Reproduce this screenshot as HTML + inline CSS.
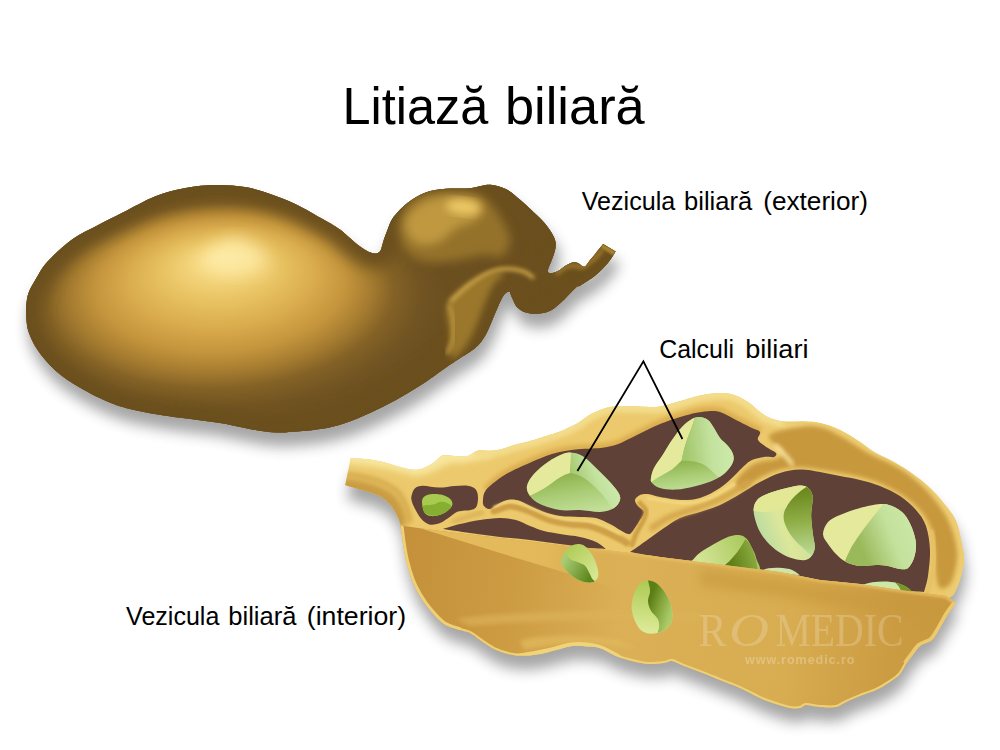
<!DOCTYPE html>
<html lang="ro"><head><meta charset="utf-8"><title>Litiază biliară</title>
<style>html,body{margin:0;padding:0;background:#fff;width:1000px;height:750px;overflow:hidden}svg{display:block}</style>
</head><body>
<svg width="1000" height="750" viewBox="0 0 1000 750">
<defs>
<filter id="b2" x="-20%" y="-20%" width="140%" height="140%"><feGaussianBlur stdDeviation="2"/></filter>
<filter id="b5" x="-20%" y="-20%" width="140%" height="140%"><feGaussianBlur stdDeviation="5"/></filter>
<filter id="b3" x="-20%" y="-20%" width="140%" height="140%"><feGaussianBlur stdDeviation="3"/></filter>
<filter id="b1" x="-20%" y="-20%" width="140%" height="140%"><feGaussianBlur stdDeviation="1"/></filter>
<filter id="b4" x="-20%" y="-20%" width="140%" height="140%"><feGaussianBlur stdDeviation="4"/></filter>
<filter id="b6" x="-20%" y="-20%" width="140%" height="140%"><feGaussianBlur stdDeviation="6"/></filter>
<filter id="b7" x="-20%" y="-20%" width="140%" height="140%"><feGaussianBlur stdDeviation="7"/></filter>
<filter id="b8" x="-20%" y="-20%" width="140%" height="140%"><feGaussianBlur stdDeviation="8"/></filter>
<filter id="b9" x="-30%" y="-30%" width="160%" height="160%"><feGaussianBlur stdDeviation="9"/></filter>
<filter id="b11" x="-20%" y="-20%" width="140%" height="140%"><feGaussianBlur stdDeviation="11"/></filter>
<filter id="b14" x="-40%" y="-40%" width="180%" height="180%"><feGaussianBlur stdDeviation="14"/></filter>
<filter id="b22" x="-50%" y="-50%" width="200%" height="200%"><feGaussianBlur stdDeviation="22"/></filter>
<clipPath id="cExt"><path d="M603.1,244.0 L615.6,251.5 C614.4,253.4 611.4,258.8 608.1,262.8 C604.8,266.8 600.2,271.5 595.6,275.3 C591.0,279.1 583.9,283.3 580.5,285.4 C577.1,287.5 578.8,285.0 575.5,287.9 C572.2,290.8 565.1,298.9 560.5,302.9 C555.9,306.9 552.9,309.9 547.9,311.7 C542.9,313.5 535.4,314.1 530.4,313.5 C525.4,312.9 521.0,310.7 517.9,307.9 C514.8,305.1 513.1,299.4 511.6,296.7 C510.1,294.0 510.6,291.6 509.1,291.6 C507.6,291.6 505.1,293.1 502.8,296.7 C500.5,300.3 498.2,306.5 495.3,313.0 C492.4,319.5 488.7,329.7 485.3,335.5 C481.9,341.3 479.8,344.0 475.2,348.0 C470.6,352.0 462.9,356.2 458.0,359.5 C453.1,362.8 451.9,363.4 445.7,367.7 C439.5,372.0 429.0,379.9 420.6,385.3 C412.2,390.7 403.9,395.7 395.5,400.3 C387.1,404.9 378.9,409.0 370.5,412.8 C362.1,416.6 353.8,420.2 345.4,422.9 C337.0,425.6 330.3,427.5 320.3,429.1 C310.3,430.7 294.4,432.0 285.2,432.4 C276.0,432.8 271.8,432.4 265.1,431.6 C258.4,430.9 252.5,429.3 245.0,427.9 C237.5,426.4 227.8,424.2 220.0,422.9 C212.2,421.6 207.1,421.1 198.0,419.9 C188.9,418.7 175.9,417.4 165.5,415.8 C155.1,414.2 144.6,412.5 135.4,410.3 C126.2,408.1 119.5,406.6 110.3,402.8 C101.1,399.1 89.4,393.2 80.2,387.8 C71.0,382.4 62.2,376.5 55.1,370.2 C48.0,363.9 42.0,356.3 37.6,350.0 C33.2,343.7 30.7,337.9 28.8,332.6 C26.9,327.3 26.7,322.6 26.3,318.0 C25.9,313.4 25.9,309.2 26.3,305.0 C26.7,300.8 27.0,297.1 28.5,293.0 C30.0,288.9 31.9,285.6 35.1,280.3 C38.3,275.1 41.3,268.4 47.6,261.5 C53.9,254.6 64.3,245.1 72.7,239.0 C81.1,232.9 89.5,229.6 97.8,225.2 C106.1,220.8 113.2,217.4 122.8,212.6 C132.4,207.8 145.0,200.4 155.4,196.3 C165.8,192.2 175.5,189.9 185.5,188.0 C195.5,186.1 205.7,185.2 215.6,185.0 C225.5,184.8 235.9,185.6 245.0,187.1 C254.1,188.6 261.8,191.1 270.2,193.9 C278.6,196.7 286.2,199.6 295.2,203.9 C304.2,208.2 316.9,215.7 324.4,220.0 C331.9,224.3 334.6,225.6 340.0,229.6 C345.4,233.6 352.4,240.5 356.8,244.0 C361.2,247.5 364.0,249.1 366.4,250.6 C368.8,252.1 369.6,252.3 371.2,252.8 C372.8,253.3 374.7,253.5 376.0,253.4 C377.3,253.3 378.2,252.8 379.0,252.2 C379.8,251.6 380.2,251.4 380.8,250.0 C381.4,248.6 382.0,246.0 382.6,244.0 C383.2,242.0 383.5,240.6 384.4,238.0 C385.3,235.4 386.8,231.4 388.0,228.4 C389.2,225.4 390.1,222.6 391.6,220.0 C393.1,217.4 394.3,215.9 397.0,213.0 C399.7,210.1 403.2,206.0 408.0,202.6 C412.8,199.2 419.3,194.9 425.6,192.6 C431.9,190.3 438.3,189.5 445.7,188.8 C453.1,188.1 463.4,188.9 470.0,188.3 C476.6,187.7 481.1,185.6 485.3,185.1 C489.5,184.6 491.6,184.8 495.3,185.6 C499.1,186.4 503.6,187.7 507.8,190.1 C512.0,192.5 516.2,196.5 520.4,200.1 C524.6,203.7 528.7,207.4 532.9,211.4 C537.1,215.4 541.8,219.5 545.4,223.9 C549.0,228.3 552.5,233.7 554.2,237.7 C555.9,241.7 555.9,244.0 555.5,247.8 C555.1,251.6 553.0,256.6 551.7,260.3 C550.4,264.1 548.1,268.1 547.9,270.3 C547.7,272.5 548.8,273.2 550.5,273.3 C552.2,273.4 556.0,272.0 558.4,270.8 C560.8,269.6 562.7,267.4 565.0,266.0 C567.3,264.6 570.2,262.9 572.4,262.4 C574.6,261.9 576.4,262.4 578.0,263.0 C579.6,263.6 580.8,265.4 582.0,266.0 C583.2,266.6 583.8,267.3 585.0,266.5 C586.2,265.7 587.4,263.4 589.2,261.2 C591.0,258.9 593.7,255.9 596.0,253.0 C598.3,250.1 601.9,245.5 603.1,244.0Z"/></clipPath>
<clipPath id="cInt"><path d="M350.8,458.0 C354.0,458.3 364.1,458.8 370.0,459.6 C375.9,460.4 380.7,461.5 386.0,462.8 C391.3,464.1 397.5,466.5 402.0,467.6 C406.5,468.8 409.7,469.6 413.2,469.7 C416.7,469.8 419.6,469.4 422.8,468.4 C426.0,467.4 429.7,465.3 432.4,463.6 C435.1,461.9 436.9,459.4 438.8,458.0 C440.7,456.6 440.9,455.6 443.6,455.3 C446.3,455.0 451.1,455.8 454.8,456.0 C458.5,456.2 462.8,457.0 466.0,456.4 C469.2,455.8 471.6,453.5 474.0,452.4 C476.4,451.3 477.7,450.3 480.4,450.0 C483.1,449.7 486.4,451.0 490.0,450.8 C493.6,450.6 498.0,450.0 502.0,449.0 C506.0,448.0 509.3,446.3 514.0,445.0 C518.7,443.7 525.7,442.2 530.0,441.0 C534.3,439.8 535.0,439.6 540.0,438.0 C545.0,436.4 555.0,433.3 560.0,431.5 C565.0,429.7 567.0,428.4 570.0,427.0 C573.0,425.6 575.5,424.5 578.0,423.0 C580.5,421.5 582.8,419.5 585.0,418.0 C587.2,416.5 588.5,415.3 591.0,414.0 C593.5,412.7 597.0,411.1 600.0,410.0 C603.0,408.9 605.7,408.0 609.0,407.3 C612.3,406.6 614.8,406.1 620.0,406.0 C625.2,405.9 634.0,406.3 640.0,406.5 C646.0,406.7 651.0,407.4 656.0,407.0 C661.0,406.6 665.3,405.2 670.0,404.0 C674.7,402.8 679.0,401.4 684.0,400.0 C689.0,398.6 694.0,396.7 700.0,395.5 C706.0,394.3 714.3,393.1 720.0,393.0 C725.7,392.9 729.3,393.5 734.0,395.0 C738.7,396.5 743.7,399.2 748.0,402.0 C752.3,404.8 756.3,409.3 760.0,412.0 C763.7,414.7 766.0,416.4 770.0,418.0 C774.0,419.6 778.3,420.9 784.0,421.5 C789.7,422.1 798.0,421.2 804.0,421.5 C810.0,421.8 814.0,421.6 820.0,423.0 C826.0,424.4 833.3,426.8 840.0,430.0 C846.7,433.2 854.3,438.3 860.0,442.0 C865.7,445.7 869.0,449.0 874.0,452.0 C879.0,455.0 884.0,456.7 890.0,460.0 C896.0,463.3 903.3,467.3 910.0,472.0 C916.7,476.7 924.0,482.3 930.0,488.0 C936.0,493.7 941.7,500.5 946.0,506.0 C950.3,511.5 953.5,515.3 956.0,521.0 C958.5,526.7 959.7,533.5 961.0,540.0 C962.3,546.5 964.2,553.3 964.0,560.0 C963.8,566.7 961.7,574.3 960.0,580.0 C958.3,585.7 955.7,591.0 954.0,594.0 C952.3,597.0 949.7,596.5 950.0,598.0 C950.3,599.5 955.0,602.2 956.0,603.0 C954.7,604.8 950.7,609.8 948.0,614.0 C945.3,618.2 942.7,623.7 940.0,628.0 C937.3,632.3 935.3,637.0 932.0,640.0 C928.7,643.0 923.3,643.3 920.0,646.0 C916.7,648.7 914.3,653.0 912.0,656.0 C909.7,659.0 908.0,661.0 906.0,664.0 C904.0,667.0 902.7,671.0 900.0,674.0 C897.3,677.0 894.0,679.3 890.0,682.0 C886.0,684.7 881.0,687.7 876.0,690.0 C871.0,692.3 865.0,694.0 860.0,696.0 C855.0,698.0 850.0,700.2 846.0,702.0 C842.0,703.8 840.3,706.2 836.0,707.0 C831.7,707.8 825.0,707.3 820.0,707.0 C815.0,706.7 809.3,704.8 806.0,705.0 C802.7,705.2 802.7,707.5 800.0,708.0 C797.3,708.5 794.0,708.7 790.0,708.0 C786.0,707.3 781.0,705.7 776.0,704.0 C771.0,702.3 766.0,700.7 760.0,698.0 C754.0,695.3 746.7,691.0 740.0,688.0 C733.3,685.0 726.7,682.7 720.0,680.0 C713.3,677.3 706.0,674.3 700.0,672.0 C694.0,669.7 688.7,667.8 684.0,666.0 C679.3,664.2 675.3,661.5 672.0,661.0 C668.7,660.5 668.0,662.5 664.0,663.0 C660.0,663.5 653.3,664.3 648.0,664.0 C642.7,663.7 637.3,662.3 632.0,661.0 C626.7,659.7 621.3,658.2 616.0,656.0 C610.7,653.8 604.7,649.6 600.0,648.0 C595.3,646.4 592.7,646.8 588.0,646.5 C583.3,646.2 577.3,645.4 572.0,646.0 C566.7,646.6 561.3,648.7 556.0,650.0 C550.7,651.3 545.0,653.1 540.0,654.0 C535.0,654.9 531.0,655.5 526.0,655.6 C521.0,655.7 515.3,655.5 510.0,654.4 C504.7,653.3 499.0,651.4 494.0,649.0 C489.0,646.6 484.0,642.7 480.0,640.0 C476.0,637.3 473.3,634.7 470.0,633.0 C466.7,631.3 464.3,631.5 460.0,630.0 C455.7,628.5 449.0,627.3 444.0,624.0 C439.0,620.7 434.0,614.7 430.0,610.0 C426.0,605.3 423.0,601.0 420.0,596.0 C417.0,591.0 414.3,586.0 412.0,580.0 C409.7,574.0 407.5,566.3 406.0,560.0 C404.5,553.7 403.6,547.1 402.8,542.0 C402.0,536.9 401.9,532.9 401.2,529.2 C400.5,525.5 400.0,522.8 398.8,519.6 C397.6,516.4 395.9,512.9 394.0,510.0 C392.1,507.1 390.3,504.4 387.6,502.0 C384.9,499.6 382.3,497.6 378.0,495.6 C373.7,493.6 367.5,491.7 362.0,490.0 C356.5,488.3 348.0,486.0 345.2,485.2 L350.8,458.0Z"/></clipPath>
<clipPath id="cFront"><path d="M404.0,526.0 L440.0,531.0 L470.0,534.5 L500.0,538.0 L530.0,541.5 L560.0,545.0 L590.0,548.5 L606.0,550.0 L630.0,553.0 L660.0,557.0 L700.0,562.0 L740.0,567.0 L780.0,572.0 L800.0,576.0 L820.0,580.0 L840.0,582.0 L860.0,584.0 L880.0,587.0 L900.0,590.0 L924.0,593.0 L946.0,596.0 L956.0,603.0 L975.0,610.0 L975.0,730.0 L380.0,730.0 L380.0,520.0Z"/></clipPath>
<linearGradient id="gFront" gradientUnits="userSpaceOnUse" x1="400" y1="560" x2="960" y2="640">
 <stop offset="0" stop-color="#c4913a"/><stop offset="0.2" stop-color="#cc9b42"/><stop offset="0.4" stop-color="#dbb056"/><stop offset="0.7" stop-color="#d8ac50"/><stop offset="0.88" stop-color="#cc9c42"/><stop offset="1" stop-color="#c8983e"/>
</linearGradient>
<linearGradient id="gWedge" gradientUnits="userSpaceOnUse" x1="404" y1="540" x2="760" y2="580">
 <stop offset="0" stop-color="#e6bd5e"/><stop offset="0.4" stop-color="#e2b85a"/><stop offset="0.7" stop-color="#dcb056" stop-opacity="0"/><stop offset="1" stop-color="#dcb056" stop-opacity="0"/>
</linearGradient>
<linearGradient id="gS2b" gradientUnits="userSpaceOnUse" x1="571" y1="473" x2="578" y2="512"><stop offset="0" stop-color="#8fb34c"/><stop offset="0.5" stop-color="#a9cc74"/><stop offset="1" stop-color="#c0de96"/></linearGradient>
<linearGradient id="gS2r" gradientUnits="userSpaceOnUse" x1="570" y1="472" x2="604" y2="458"><stop offset="0" stop-color="#a4c86e"/><stop offset="0.6" stop-color="#c3e29e"/><stop offset="1" stop-color="#cbe8a8"/></linearGradient>
<linearGradient id="gS3b" gradientUnits="userSpaceOnUse" x1="684" y1="461" x2="688" y2="490"><stop offset="0" stop-color="#8fb34c"/><stop offset="0.5" stop-color="#a9cc74"/><stop offset="1" stop-color="#c0de96"/></linearGradient>
<linearGradient id="gS3r" gradientUnits="userSpaceOnUse" x1="686" y1="450" x2="728" y2="446"><stop offset="0" stop-color="#a4c86e"/><stop offset="0.6" stop-color="#c3e29e"/><stop offset="1" stop-color="#cbe8a8"/></linearGradient>
<linearGradient id="gS5" gradientUnits="userSpaceOnUse" x1="860" y1="545" x2="910" y2="525"><stop offset="0" stop-color="#9ab95a"/><stop offset="0.6" stop-color="#c4e19c"/><stop offset="1" stop-color="#c9e6a4"/></linearGradient>
<radialGradient id="gBody" gradientUnits="userSpaceOnUse" cx="0" cy="0" r="1" fx="0.02" fy="-0.42" gradientTransform="translate(220 308) rotate(-3) scale(228 122)">
 <stop offset="0" stop-color="#fce8a0"/><stop offset="0.13" stop-color="#f4d57c"/><stop offset="0.28" stop-color="#e6bf5e"/><stop offset="0.42" stop-color="#d8aa4c"/><stop offset="0.55" stop-color="#c4953c"/><stop offset="0.66" stop-color="#a67c30"/><stop offset="0.76" stop-color="#846226"/><stop offset="0.88" stop-color="#715422"/><stop offset="1" stop-color="#6b4f1f"/>
</radialGradient>
</defs>
<rect width="1000" height="750" fill="#fff"/>
<g transform="translate(3,13)" filter="url(#b7)" opacity="0.48"><path d="M603.1,244.0 L615.6,251.5 C614.4,253.4 611.4,258.8 608.1,262.8 C604.8,266.8 600.2,271.5 595.6,275.3 C591.0,279.1 583.9,283.3 580.5,285.4 C577.1,287.5 578.8,285.0 575.5,287.9 C572.2,290.8 565.1,298.9 560.5,302.9 C555.9,306.9 552.9,309.9 547.9,311.7 C542.9,313.5 535.4,314.1 530.4,313.5 C525.4,312.9 521.0,310.7 517.9,307.9 C514.8,305.1 513.1,299.4 511.6,296.7 C510.1,294.0 510.6,291.6 509.1,291.6 C507.6,291.6 505.1,293.1 502.8,296.7 C500.5,300.3 498.2,306.5 495.3,313.0 C492.4,319.5 488.7,329.7 485.3,335.5 C481.9,341.3 479.8,344.0 475.2,348.0 C470.6,352.0 462.9,356.2 458.0,359.5 C453.1,362.8 451.9,363.4 445.7,367.7 C439.5,372.0 429.0,379.9 420.6,385.3 C412.2,390.7 403.9,395.7 395.5,400.3 C387.1,404.9 378.9,409.0 370.5,412.8 C362.1,416.6 353.8,420.2 345.4,422.9 C337.0,425.6 330.3,427.5 320.3,429.1 C310.3,430.7 294.4,432.0 285.2,432.4 C276.0,432.8 271.8,432.4 265.1,431.6 C258.4,430.9 252.5,429.3 245.0,427.9 C237.5,426.4 227.8,424.2 220.0,422.9 C212.2,421.6 207.1,421.1 198.0,419.9 C188.9,418.7 175.9,417.4 165.5,415.8 C155.1,414.2 144.6,412.5 135.4,410.3 C126.2,408.1 119.5,406.6 110.3,402.8 C101.1,399.1 89.4,393.2 80.2,387.8 C71.0,382.4 62.2,376.5 55.1,370.2 C48.0,363.9 42.0,356.3 37.6,350.0 C33.2,343.7 30.7,337.9 28.8,332.6 C26.9,327.3 26.7,322.6 26.3,318.0 C25.9,313.4 25.9,309.2 26.3,305.0 C26.7,300.8 27.0,297.1 28.5,293.0 C30.0,288.9 31.9,285.6 35.1,280.3 C38.3,275.1 41.3,268.4 47.6,261.5 C53.9,254.6 64.3,245.1 72.7,239.0 C81.1,232.9 89.5,229.6 97.8,225.2 C106.1,220.8 113.2,217.4 122.8,212.6 C132.4,207.8 145.0,200.4 155.4,196.3 C165.8,192.2 175.5,189.9 185.5,188.0 C195.5,186.1 205.7,185.2 215.6,185.0 C225.5,184.8 235.9,185.6 245.0,187.1 C254.1,188.6 261.8,191.1 270.2,193.9 C278.6,196.7 286.2,199.6 295.2,203.9 C304.2,208.2 316.9,215.7 324.4,220.0 C331.9,224.3 334.6,225.6 340.0,229.6 C345.4,233.6 352.4,240.5 356.8,244.0 C361.2,247.5 364.0,249.1 366.4,250.6 C368.8,252.1 369.6,252.3 371.2,252.8 C372.8,253.3 374.7,253.5 376.0,253.4 C377.3,253.3 378.2,252.8 379.0,252.2 C379.8,251.6 380.2,251.4 380.8,250.0 C381.4,248.6 382.0,246.0 382.6,244.0 C383.2,242.0 383.5,240.6 384.4,238.0 C385.3,235.4 386.8,231.4 388.0,228.4 C389.2,225.4 390.1,222.6 391.6,220.0 C393.1,217.4 394.3,215.9 397.0,213.0 C399.7,210.1 403.2,206.0 408.0,202.6 C412.8,199.2 419.3,194.9 425.6,192.6 C431.9,190.3 438.3,189.5 445.7,188.8 C453.1,188.1 463.4,188.9 470.0,188.3 C476.6,187.7 481.1,185.6 485.3,185.1 C489.5,184.6 491.6,184.8 495.3,185.6 C499.1,186.4 503.6,187.7 507.8,190.1 C512.0,192.5 516.2,196.5 520.4,200.1 C524.6,203.7 528.7,207.4 532.9,211.4 C537.1,215.4 541.8,219.5 545.4,223.9 C549.0,228.3 552.5,233.7 554.2,237.7 C555.9,241.7 555.9,244.0 555.5,247.8 C555.1,251.6 553.0,256.6 551.7,260.3 C550.4,264.1 548.1,268.1 547.9,270.3 C547.7,272.5 548.8,273.2 550.5,273.3 C552.2,273.4 556.0,272.0 558.4,270.8 C560.8,269.6 562.7,267.4 565.0,266.0 C567.3,264.6 570.2,262.9 572.4,262.4 C574.6,261.9 576.4,262.4 578.0,263.0 C579.6,263.6 580.8,265.4 582.0,266.0 C583.2,266.6 583.8,267.3 585.0,266.5 C586.2,265.7 587.4,263.4 589.2,261.2 C591.0,258.9 593.7,255.9 596.0,253.0 C598.3,250.1 601.9,245.5 603.1,244.0Z" fill="#444" stroke="#444" stroke-width="2"/></g>
<g clip-path="url(#cExt)">
<rect x="0" y="150" width="650" height="320" fill="#6d5120"/>
<rect x="0" y="150" width="650" height="320" fill="url(#gBody)"/>
<path d="M603.1,244.0 L615.6,251.5 C614.4,253.4 611.4,258.8 608.1,262.8 C604.8,266.8 600.2,271.5 595.6,275.3 C591.0,279.1 583.9,283.3 580.5,285.4 C577.1,287.5 578.8,285.0 575.5,287.9 C572.2,290.8 565.1,298.9 560.5,302.9 C555.9,306.9 552.9,309.9 547.9,311.7 C542.9,313.5 535.4,314.1 530.4,313.5 C525.4,312.9 521.0,310.7 517.9,307.9 C514.8,305.1 513.1,299.4 511.6,296.7 C510.1,294.0 510.6,291.6 509.1,291.6 C507.6,291.6 505.1,293.1 502.8,296.7 C500.5,300.3 498.2,306.5 495.3,313.0 C492.4,319.5 488.7,329.7 485.3,335.5 C481.9,341.3 479.8,344.0 475.2,348.0 C470.6,352.0 462.9,356.2 458.0,359.5 C453.1,362.8 451.9,363.4 445.7,367.7 C439.5,372.0 429.0,379.9 420.6,385.3 C412.2,390.7 403.9,395.7 395.5,400.3 C387.1,404.9 378.9,409.0 370.5,412.8 C362.1,416.6 353.8,420.2 345.4,422.9 C337.0,425.6 330.3,427.5 320.3,429.1 C310.3,430.7 294.4,432.0 285.2,432.4 C276.0,432.8 271.8,432.4 265.1,431.6 C258.4,430.9 252.5,429.3 245.0,427.9 C237.5,426.4 227.8,424.2 220.0,422.9 C212.2,421.6 207.1,421.1 198.0,419.9 C188.9,418.7 175.9,417.4 165.5,415.8 C155.1,414.2 144.6,412.5 135.4,410.3 C126.2,408.1 119.5,406.6 110.3,402.8 C101.1,399.1 89.4,393.2 80.2,387.8 C71.0,382.4 62.2,376.5 55.1,370.2 C48.0,363.9 42.0,356.3 37.6,350.0 C33.2,343.7 30.7,337.9 28.8,332.6 C26.9,327.3 26.7,322.6 26.3,318.0 C25.9,313.4 25.9,309.2 26.3,305.0 C26.7,300.8 27.0,297.1 28.5,293.0 C30.0,288.9 31.9,285.6 35.1,280.3 C38.3,275.1 41.3,268.4 47.6,261.5 C53.9,254.6 64.3,245.1 72.7,239.0 C81.1,232.9 89.5,229.6 97.8,225.2 C106.1,220.8 113.2,217.4 122.8,212.6 C132.4,207.8 145.0,200.4 155.4,196.3 C165.8,192.2 175.5,189.9 185.5,188.0 C195.5,186.1 205.7,185.2 215.6,185.0 C225.5,184.8 235.9,185.6 245.0,187.1 C254.1,188.6 261.8,191.1 270.2,193.9 C278.6,196.7 286.2,199.6 295.2,203.9 C304.2,208.2 316.9,215.7 324.4,220.0 C331.9,224.3 334.6,225.6 340.0,229.6 C345.4,233.6 352.4,240.5 356.8,244.0 C361.2,247.5 364.0,249.1 366.4,250.6 C368.8,252.1 369.6,252.3 371.2,252.8 C372.8,253.3 374.7,253.5 376.0,253.4 C377.3,253.3 378.2,252.8 379.0,252.2 C379.8,251.6 380.2,251.4 380.8,250.0 C381.4,248.6 382.0,246.0 382.6,244.0 C383.2,242.0 383.5,240.6 384.4,238.0 C385.3,235.4 386.8,231.4 388.0,228.4 C389.2,225.4 390.1,222.6 391.6,220.0 C393.1,217.4 394.3,215.9 397.0,213.0 C399.7,210.1 403.2,206.0 408.0,202.6 C412.8,199.2 419.3,194.9 425.6,192.6 C431.9,190.3 438.3,189.5 445.7,188.8 C453.1,188.1 463.4,188.9 470.0,188.3 C476.6,187.7 481.1,185.6 485.3,185.1 C489.5,184.6 491.6,184.8 495.3,185.6 C499.1,186.4 503.6,187.7 507.8,190.1 C512.0,192.5 516.2,196.5 520.4,200.1 C524.6,203.7 528.7,207.4 532.9,211.4 C537.1,215.4 541.8,219.5 545.4,223.9 C549.0,228.3 552.5,233.7 554.2,237.7 C555.9,241.7 555.9,244.0 555.5,247.8 C555.1,251.6 553.0,256.6 551.7,260.3 C550.4,264.1 548.1,268.1 547.9,270.3 C547.7,272.5 548.8,273.2 550.5,273.3 C552.2,273.4 556.0,272.0 558.4,270.8 C560.8,269.6 562.7,267.4 565.0,266.0 C567.3,264.6 570.2,262.9 572.4,262.4 C574.6,261.9 576.4,262.4 578.0,263.0 C579.6,263.6 580.8,265.4 582.0,266.0 C583.2,266.6 583.8,267.3 585.0,266.5 C586.2,265.7 587.4,263.4 589.2,261.2 C591.0,258.9 593.7,255.9 596.0,253.0 C598.3,250.1 601.9,245.5 603.1,244.0Z" fill="none" stroke="#6b4f1f" stroke-width="30" filter="url(#b8)"/>
<path d="M202,262 C210,248 223,240 234,238 C247,240 260,249 270,262 C260,270 246,274 234,274 C221,274 210,270 202,262Z" fill="#fdeaa6" filter="url(#b9)" opacity="0.9"/>
<path d="M403.0,212.0 C405.8,206.3 410.0,201.3 416.0,198.0 C422.0,194.7 429.3,192.7 439.0,192.0 C448.7,191.3 465.5,192.2 474.0,194.0 C482.5,195.8 485.2,198.3 490.0,203.0 C494.8,207.7 499.7,215.8 503.0,222.0 C506.3,228.2 510.2,234.3 510.0,240.0 C509.8,245.7 506.3,253.5 502.0,256.0 C497.7,258.5 491.3,254.3 484.0,255.0 C476.7,255.7 467.3,258.8 458.0,260.0 C448.7,261.2 436.5,263.3 428.0,262.0 C419.5,260.7 411.8,257.0 407.0,252.0 C402.2,247.0 399.7,238.7 399.0,232.0 C398.3,225.3 400.2,217.7 403.0,212.0Z" fill="#94722a" filter="url(#b5)"/>
<path d="M409.0,214.0 C412.7,209.0 419.8,203.0 428.0,200.0 C436.2,197.0 449.7,196.0 458.0,196.0 C466.3,196.0 474.0,197.2 478.0,200.0 C482.0,202.8 483.3,209.2 482.0,213.0 C480.7,216.8 474.3,220.5 470.0,223.0 C465.7,225.5 461.2,224.8 456.0,228.0 C450.8,231.2 445.3,239.3 439.0,242.0 C432.7,244.7 423.5,246.0 418.0,244.0 C412.5,242.0 407.5,235.0 406.0,230.0 C404.5,225.0 405.3,219.0 409.0,214.0Z" fill="#bf983f" filter="url(#b5)"/>
<ellipse cx="463" cy="207" rx="17" ry="7.5" transform="rotate(6 463 207)" fill="#ebc865" filter="url(#b4)"/>
<path d="M447.0,306.0 C448.7,298.8 454.8,294.7 460.0,290.0 C465.2,285.3 472.0,281.0 478.0,278.0 C484.0,275.0 491.7,272.7 496.0,272.0 C500.3,271.3 504.3,272.0 504.0,274.0 C503.7,276.0 496.8,280.0 494.0,284.0 C491.2,288.0 489.2,293.2 487.0,298.0 C484.8,302.8 483.2,307.5 481.0,313.0 C478.8,318.5 476.7,325.3 474.0,331.0 C471.3,336.7 468.7,342.5 465.0,347.0 C461.3,351.5 454.5,360.3 452.0,358.0 C449.5,355.7 450.8,341.7 450.0,333.0 C449.2,324.3 445.3,313.2 447.0,306.0Z" fill="#9a772c" filter="url(#b3)"/>
<path d="M450.0,302.0 C452.9,299.3 461.5,290.7 467.6,286.0 C473.7,281.3 480.9,276.4 486.8,273.6 C492.7,270.8 497.1,269.4 503.0,269.0 C508.9,268.6 516.8,269.5 522.0,271.0 C527.2,272.5 532.0,276.8 534.0,278.0" fill="none" stroke="#d4ab4b" stroke-width="3.5" filter="url(#b2)"/>
<path d="M449.0,304.0 C449.7,306.7 452.3,314.2 453.0,320.0 C453.7,325.8 454.0,333.3 453.0,339.0 C452.0,344.7 448.0,351.5 447.0,354.0" fill="none" stroke="#b9923d" stroke-width="4" filter="url(#b2)"/>
<path d="M556.0,274.0 C557.3,273.0 561.2,269.4 564.0,268.0 C566.8,266.6 570.0,265.8 573.0,265.6 C576.0,265.4 579.2,267.6 582.0,267.0 C584.8,266.4 587.5,263.8 590.0,262.0 C592.5,260.2 594.8,258.2 597.0,256.0 C599.2,253.8 602.0,250.2 603.0,249.0" fill="none" stroke="#a07c2e" stroke-width="4" filter="url(#b2)"/>
<path d="M602.5,243.5 L616,251.5 L613.5,255.5 L600.5,247.5 Z" fill="#a8842f" filter="url(#b1)"/>
</g>
<g transform="translate(2,14)" filter="url(#b7)" opacity="0.48"><path d="M350.8,458.0 C354.0,458.3 364.1,458.8 370.0,459.6 C375.9,460.4 380.7,461.5 386.0,462.8 C391.3,464.1 397.5,466.5 402.0,467.6 C406.5,468.8 409.7,469.6 413.2,469.7 C416.7,469.8 419.6,469.4 422.8,468.4 C426.0,467.4 429.7,465.3 432.4,463.6 C435.1,461.9 436.9,459.4 438.8,458.0 C440.7,456.6 440.9,455.6 443.6,455.3 C446.3,455.0 451.1,455.8 454.8,456.0 C458.5,456.2 462.8,457.0 466.0,456.4 C469.2,455.8 471.6,453.5 474.0,452.4 C476.4,451.3 477.7,450.3 480.4,450.0 C483.1,449.7 486.4,451.0 490.0,450.8 C493.6,450.6 498.0,450.0 502.0,449.0 C506.0,448.0 509.3,446.3 514.0,445.0 C518.7,443.7 525.7,442.2 530.0,441.0 C534.3,439.8 535.0,439.6 540.0,438.0 C545.0,436.4 555.0,433.3 560.0,431.5 C565.0,429.7 567.0,428.4 570.0,427.0 C573.0,425.6 575.5,424.5 578.0,423.0 C580.5,421.5 582.8,419.5 585.0,418.0 C587.2,416.5 588.5,415.3 591.0,414.0 C593.5,412.7 597.0,411.1 600.0,410.0 C603.0,408.9 605.7,408.0 609.0,407.3 C612.3,406.6 614.8,406.1 620.0,406.0 C625.2,405.9 634.0,406.3 640.0,406.5 C646.0,406.7 651.0,407.4 656.0,407.0 C661.0,406.6 665.3,405.2 670.0,404.0 C674.7,402.8 679.0,401.4 684.0,400.0 C689.0,398.6 694.0,396.7 700.0,395.5 C706.0,394.3 714.3,393.1 720.0,393.0 C725.7,392.9 729.3,393.5 734.0,395.0 C738.7,396.5 743.7,399.2 748.0,402.0 C752.3,404.8 756.3,409.3 760.0,412.0 C763.7,414.7 766.0,416.4 770.0,418.0 C774.0,419.6 778.3,420.9 784.0,421.5 C789.7,422.1 798.0,421.2 804.0,421.5 C810.0,421.8 814.0,421.6 820.0,423.0 C826.0,424.4 833.3,426.8 840.0,430.0 C846.7,433.2 854.3,438.3 860.0,442.0 C865.7,445.7 869.0,449.0 874.0,452.0 C879.0,455.0 884.0,456.7 890.0,460.0 C896.0,463.3 903.3,467.3 910.0,472.0 C916.7,476.7 924.0,482.3 930.0,488.0 C936.0,493.7 941.7,500.5 946.0,506.0 C950.3,511.5 953.5,515.3 956.0,521.0 C958.5,526.7 959.7,533.5 961.0,540.0 C962.3,546.5 964.2,553.3 964.0,560.0 C963.8,566.7 961.7,574.3 960.0,580.0 C958.3,585.7 955.7,591.0 954.0,594.0 C952.3,597.0 949.7,596.5 950.0,598.0 C950.3,599.5 955.0,602.2 956.0,603.0 C954.7,604.8 950.7,609.8 948.0,614.0 C945.3,618.2 942.7,623.7 940.0,628.0 C937.3,632.3 935.3,637.0 932.0,640.0 C928.7,643.0 923.3,643.3 920.0,646.0 C916.7,648.7 914.3,653.0 912.0,656.0 C909.7,659.0 908.0,661.0 906.0,664.0 C904.0,667.0 902.7,671.0 900.0,674.0 C897.3,677.0 894.0,679.3 890.0,682.0 C886.0,684.7 881.0,687.7 876.0,690.0 C871.0,692.3 865.0,694.0 860.0,696.0 C855.0,698.0 850.0,700.2 846.0,702.0 C842.0,703.8 840.3,706.2 836.0,707.0 C831.7,707.8 825.0,707.3 820.0,707.0 C815.0,706.7 809.3,704.8 806.0,705.0 C802.7,705.2 802.7,707.5 800.0,708.0 C797.3,708.5 794.0,708.7 790.0,708.0 C786.0,707.3 781.0,705.7 776.0,704.0 C771.0,702.3 766.0,700.7 760.0,698.0 C754.0,695.3 746.7,691.0 740.0,688.0 C733.3,685.0 726.7,682.7 720.0,680.0 C713.3,677.3 706.0,674.3 700.0,672.0 C694.0,669.7 688.7,667.8 684.0,666.0 C679.3,664.2 675.3,661.5 672.0,661.0 C668.7,660.5 668.0,662.5 664.0,663.0 C660.0,663.5 653.3,664.3 648.0,664.0 C642.7,663.7 637.3,662.3 632.0,661.0 C626.7,659.7 621.3,658.2 616.0,656.0 C610.7,653.8 604.7,649.6 600.0,648.0 C595.3,646.4 592.7,646.8 588.0,646.5 C583.3,646.2 577.3,645.4 572.0,646.0 C566.7,646.6 561.3,648.7 556.0,650.0 C550.7,651.3 545.0,653.1 540.0,654.0 C535.0,654.9 531.0,655.5 526.0,655.6 C521.0,655.7 515.3,655.5 510.0,654.4 C504.7,653.3 499.0,651.4 494.0,649.0 C489.0,646.6 484.0,642.7 480.0,640.0 C476.0,637.3 473.3,634.7 470.0,633.0 C466.7,631.3 464.3,631.5 460.0,630.0 C455.7,628.5 449.0,627.3 444.0,624.0 C439.0,620.7 434.0,614.7 430.0,610.0 C426.0,605.3 423.0,601.0 420.0,596.0 C417.0,591.0 414.3,586.0 412.0,580.0 C409.7,574.0 407.5,566.3 406.0,560.0 C404.5,553.7 403.6,547.1 402.8,542.0 C402.0,536.9 401.9,532.9 401.2,529.2 C400.5,525.5 400.0,522.8 398.8,519.6 C397.6,516.4 395.9,512.9 394.0,510.0 C392.1,507.1 390.3,504.4 387.6,502.0 C384.9,499.6 382.3,497.6 378.0,495.6 C373.7,493.6 367.5,491.7 362.0,490.0 C356.5,488.3 348.0,486.0 345.2,485.2 L350.8,458.0Z" fill="#444"/></g>
<path d="M350.8,458.0 C354.0,458.3 364.1,458.8 370.0,459.6 C375.9,460.4 380.7,461.5 386.0,462.8 C391.3,464.1 397.5,466.5 402.0,467.6 C406.5,468.8 409.7,469.6 413.2,469.7 C416.7,469.8 419.6,469.4 422.8,468.4 C426.0,467.4 429.7,465.3 432.4,463.6 C435.1,461.9 436.9,459.4 438.8,458.0 C440.7,456.6 440.9,455.6 443.6,455.3 C446.3,455.0 451.1,455.8 454.8,456.0 C458.5,456.2 462.8,457.0 466.0,456.4 C469.2,455.8 471.6,453.5 474.0,452.4 C476.4,451.3 477.7,450.3 480.4,450.0 C483.1,449.7 486.4,451.0 490.0,450.8 C493.6,450.6 498.0,450.0 502.0,449.0 C506.0,448.0 509.3,446.3 514.0,445.0 C518.7,443.7 525.7,442.2 530.0,441.0 C534.3,439.8 535.0,439.6 540.0,438.0 C545.0,436.4 555.0,433.3 560.0,431.5 C565.0,429.7 567.0,428.4 570.0,427.0 C573.0,425.6 575.5,424.5 578.0,423.0 C580.5,421.5 582.8,419.5 585.0,418.0 C587.2,416.5 588.5,415.3 591.0,414.0 C593.5,412.7 597.0,411.1 600.0,410.0 C603.0,408.9 605.7,408.0 609.0,407.3 C612.3,406.6 614.8,406.1 620.0,406.0 C625.2,405.9 634.0,406.3 640.0,406.5 C646.0,406.7 651.0,407.4 656.0,407.0 C661.0,406.6 665.3,405.2 670.0,404.0 C674.7,402.8 679.0,401.4 684.0,400.0 C689.0,398.6 694.0,396.7 700.0,395.5 C706.0,394.3 714.3,393.1 720.0,393.0 C725.7,392.9 729.3,393.5 734.0,395.0 C738.7,396.5 743.7,399.2 748.0,402.0 C752.3,404.8 756.3,409.3 760.0,412.0 C763.7,414.7 766.0,416.4 770.0,418.0 C774.0,419.6 778.3,420.9 784.0,421.5 C789.7,422.1 798.0,421.2 804.0,421.5 C810.0,421.8 814.0,421.6 820.0,423.0 C826.0,424.4 833.3,426.8 840.0,430.0 C846.7,433.2 854.3,438.3 860.0,442.0 C865.7,445.7 869.0,449.0 874.0,452.0 C879.0,455.0 884.0,456.7 890.0,460.0 C896.0,463.3 903.3,467.3 910.0,472.0 C916.7,476.7 924.0,482.3 930.0,488.0 C936.0,493.7 941.7,500.5 946.0,506.0 C950.3,511.5 953.5,515.3 956.0,521.0 C958.5,526.7 959.7,533.5 961.0,540.0 C962.3,546.5 964.2,553.3 964.0,560.0 C963.8,566.7 961.7,574.3 960.0,580.0 C958.3,585.7 955.7,591.0 954.0,594.0 C952.3,597.0 949.7,596.5 950.0,598.0 C950.3,599.5 955.0,602.2 956.0,603.0 C954.7,604.8 950.7,609.8 948.0,614.0 C945.3,618.2 942.7,623.7 940.0,628.0 C937.3,632.3 935.3,637.0 932.0,640.0 C928.7,643.0 923.3,643.3 920.0,646.0 C916.7,648.7 914.3,653.0 912.0,656.0 C909.7,659.0 908.0,661.0 906.0,664.0 C904.0,667.0 902.7,671.0 900.0,674.0 C897.3,677.0 894.0,679.3 890.0,682.0 C886.0,684.7 881.0,687.7 876.0,690.0 C871.0,692.3 865.0,694.0 860.0,696.0 C855.0,698.0 850.0,700.2 846.0,702.0 C842.0,703.8 840.3,706.2 836.0,707.0 C831.7,707.8 825.0,707.3 820.0,707.0 C815.0,706.7 809.3,704.8 806.0,705.0 C802.7,705.2 802.7,707.5 800.0,708.0 C797.3,708.5 794.0,708.7 790.0,708.0 C786.0,707.3 781.0,705.7 776.0,704.0 C771.0,702.3 766.0,700.7 760.0,698.0 C754.0,695.3 746.7,691.0 740.0,688.0 C733.3,685.0 726.7,682.7 720.0,680.0 C713.3,677.3 706.0,674.3 700.0,672.0 C694.0,669.7 688.7,667.8 684.0,666.0 C679.3,664.2 675.3,661.5 672.0,661.0 C668.7,660.5 668.0,662.5 664.0,663.0 C660.0,663.5 653.3,664.3 648.0,664.0 C642.7,663.7 637.3,662.3 632.0,661.0 C626.7,659.7 621.3,658.2 616.0,656.0 C610.7,653.8 604.7,649.6 600.0,648.0 C595.3,646.4 592.7,646.8 588.0,646.5 C583.3,646.2 577.3,645.4 572.0,646.0 C566.7,646.6 561.3,648.7 556.0,650.0 C550.7,651.3 545.0,653.1 540.0,654.0 C535.0,654.9 531.0,655.5 526.0,655.6 C521.0,655.7 515.3,655.5 510.0,654.4 C504.7,653.3 499.0,651.4 494.0,649.0 C489.0,646.6 484.0,642.7 480.0,640.0 C476.0,637.3 473.3,634.7 470.0,633.0 C466.7,631.3 464.3,631.5 460.0,630.0 C455.7,628.5 449.0,627.3 444.0,624.0 C439.0,620.7 434.0,614.7 430.0,610.0 C426.0,605.3 423.0,601.0 420.0,596.0 C417.0,591.0 414.3,586.0 412.0,580.0 C409.7,574.0 407.5,566.3 406.0,560.0 C404.5,553.7 403.6,547.1 402.8,542.0 C402.0,536.9 401.9,532.9 401.2,529.2 C400.5,525.5 400.0,522.8 398.8,519.6 C397.6,516.4 395.9,512.9 394.0,510.0 C392.1,507.1 390.3,504.4 387.6,502.0 C384.9,499.6 382.3,497.6 378.0,495.6 C373.7,493.6 367.5,491.7 362.0,490.0 C356.5,488.3 348.0,486.0 345.2,485.2 L350.8,458.0Z" fill="#ecc96c"/>
<g clip-path="url(#cInt)">
<path d="M340,477 C360,479 382,484 394,494 C402,502 406,512 408,524 L396,530 L380,500 L340,492 Z" fill="#c99c42" filter="url(#b3)"/>
<path d="M344,474 C364,476 386,481 398,492 C405,500 408,510 410,522" fill="none" stroke="#d6ab4e" stroke-width="5" filter="url(#b2)"/>
<path d="M348,464 C370,465 395,470 414,476 C430,476 440,466 452,463 C470,464 480,458 492,458 L492,446 L346,452 Z" fill="#f7e69c" filter="url(#b3)"/>
<path d="M474.0,452.4 C475.1,452.0 477.7,450.3 480.4,450.0 C483.1,449.7 486.4,451.0 490.0,450.8 C493.6,450.6 498.0,450.0 502.0,449.0 C506.0,448.0 509.3,446.3 514.0,445.0 C518.7,443.7 525.7,442.2 530.0,441.0 C534.3,439.8 535.0,439.6 540.0,438.0 C545.0,436.4 555.0,433.3 560.0,431.5 C565.0,429.7 567.0,428.4 570.0,427.0 C573.0,425.6 575.5,424.5 578.0,423.0 C580.5,421.5 582.8,419.5 585.0,418.0 C587.2,416.5 588.5,415.3 591.0,414.0 C593.5,412.7 597.0,411.1 600.0,410.0 C603.0,408.9 605.7,408.0 609.0,407.3 C612.3,406.6 614.8,406.1 620.0,406.0 C625.2,405.9 634.0,406.3 640.0,406.5 C646.0,406.7 651.0,407.4 656.0,407.0 C661.0,406.6 665.3,405.2 670.0,404.0 C674.7,402.8 679.0,401.4 684.0,400.0 C689.0,398.6 694.0,396.7 700.0,395.5 C706.0,394.3 714.3,393.1 720.0,393.0 C725.7,392.9 729.3,393.5 734.0,395.0 C738.7,396.5 743.7,399.2 748.0,402.0 C752.3,404.8 756.3,409.3 760.0,412.0 C763.7,414.7 766.0,416.4 770.0,418.0 C774.0,419.6 778.3,420.9 784.0,421.5 C789.7,422.1 800.7,421.5 804.0,421.5" fill="none" stroke="#f3dc8a" stroke-width="13" filter="url(#b2)"/>
<path d="M784.0,421.5 C787.3,421.5 798.0,421.2 804.0,421.5 C810.0,421.8 814.0,421.6 820.0,423.0 C826.0,424.4 833.3,426.8 840.0,430.0 C846.7,433.2 854.3,438.3 860.0,442.0 C865.7,445.7 869.0,449.0 874.0,452.0 C879.0,455.0 884.0,456.7 890.0,460.0 C896.0,463.3 903.3,467.3 910.0,472.0 C916.7,476.7 924.0,482.3 930.0,488.0 C936.0,493.7 941.7,500.5 946.0,506.0 C950.3,511.5 953.5,515.3 956.0,521.0 C958.5,526.7 959.7,533.5 961.0,540.0 C962.3,546.5 964.2,553.3 964.0,560.0 C963.8,566.7 961.7,574.3 960.0,580.0 C958.3,585.7 955.7,591.0 954.0,594.0 C952.3,597.0 950.7,597.3 950.0,598.0" fill="none" stroke="#edcd72" stroke-width="10" filter="url(#b2)"/>
<path d="M768.8,437.2 C768.3,433.7 774.1,432.6 780.0,430.8 C785.9,429.0 796.8,427.0 804.0,426.5 C811.2,426.0 817.3,426.5 823.2,428.0 C829.1,429.5 833.9,432.7 839.2,435.6 C844.5,438.5 849.9,442.0 855.2,445.2 C860.5,448.4 863.7,450.8 871.2,454.8 C878.7,458.8 891.2,463.5 900.0,469.0 C908.8,474.5 917.0,481.2 924.0,488.0 C931.0,494.8 937.3,503.0 942.0,510.0 C946.7,517.0 949.5,523.0 952.0,530.0 C954.5,537.0 956.5,545.3 957.0,552.0 C957.5,558.7 956.2,564.7 955.0,570.0 C953.8,575.3 952.5,581.0 950.0,584.0 C947.5,587.0 942.3,589.7 940.0,588.0 C937.7,586.3 936.8,580.0 936.0,574.0 C935.2,568.0 935.8,559.7 935.0,552.0 C934.2,544.3 933.5,535.0 931.0,528.0 C928.5,521.0 924.7,515.4 920.0,510.0 C915.3,504.6 909.0,499.7 903.0,495.5 C897.0,491.3 889.8,487.8 884.0,485.0 C878.2,482.2 873.3,480.7 868.0,479.0 C862.7,477.3 857.3,476.2 852.0,475.0 C846.7,473.8 841.3,472.9 836.0,472.0 C830.7,471.1 825.3,470.2 820.0,469.5 C814.7,468.8 809.3,467.8 804.0,467.5 C798.7,467.2 793.3,467.2 788.0,468.0 C782.7,468.8 777.3,470.0 772.0,472.0 C766.7,474.0 761.0,477.0 756.0,480.0 C751.0,483.0 745.3,489.7 742.0,490.0 C738.7,490.3 735.0,485.7 736.0,482.0 C737.0,478.3 744.0,471.3 748.0,468.0 C752.0,464.7 755.3,463.5 760.0,462.0 C764.7,460.5 772.2,460.7 776.0,459.0 C779.8,457.3 784.2,455.6 783.0,452.0 C781.8,448.4 769.3,440.7 768.8,437.2Z" fill="#c8983e" filter="url(#b2)"/>
<path d="M931,530 C935,548 935,566 930,584 L926,594" fill="none" stroke="#e6c166" stroke-width="5" filter="url(#b1)"/>
<path d="M776,446 C782,452 788,458 792,464" fill="none" stroke="#f8e6a2" stroke-width="4" stroke-linecap="round" filter="url(#b2)"/>
<path d="M486.0,490.0 C488.3,488.0 495.7,481.2 500.0,478.0 C504.3,474.8 507.7,473.2 512.0,471.0 C516.3,468.8 521.3,466.6 526.0,464.5 C530.7,462.4 535.7,460.2 540.0,458.5 C544.3,456.8 547.8,455.2 552.0,454.0 C556.2,452.8 560.7,451.8 565.0,451.0 C569.3,450.2 573.5,449.7 578.0,449.3 C582.5,448.9 587.7,448.8 592.0,448.5 C596.3,448.2 599.8,448.2 604.0,447.5 C608.2,446.8 612.7,446.0 617.0,444.5 C621.3,443.0 625.7,440.6 630.0,438.5 C634.3,436.4 638.7,434.1 643.0,432.0 C647.3,429.9 651.8,427.6 656.0,425.8 C660.2,424.0 663.7,422.5 668.0,421.0 C672.3,419.5 677.5,417.9 682.0,416.6 C686.5,415.3 690.7,413.9 695.0,413.0 C699.3,412.1 703.8,411.4 708.0,411.2 C712.2,411.0 715.3,410.5 720.0,412.0 C724.7,413.5 730.7,417.3 736.0,420.0 C741.3,422.7 748.0,426.0 752.0,428.0 C756.0,430.0 758.7,431.3 760.0,432.0" fill="none" stroke="#dbae50" stroke-width="9" filter="url(#b2)"/>
<path d="M411.6,495.6 C412.1,493.6 412.9,490.0 414.8,488.4 C416.7,486.8 418.8,485.8 422.8,485.7 C426.8,485.6 433.5,487.6 438.8,487.6 C444.1,487.7 450.0,486.3 454.8,486.0 C459.6,485.7 464.1,485.2 467.6,485.7 C471.1,486.2 473.9,487.3 475.6,489.2 C477.3,491.1 477.9,494.3 478.0,497.2 C478.1,500.1 477.6,504.7 476.4,506.8 C475.2,508.9 473.9,509.2 470.8,510.0 C467.7,510.8 461.7,510.3 458.0,511.6 C454.3,512.9 451.6,516.0 448.4,518.0 C445.2,520.0 442.0,522.5 438.8,523.6 C435.6,524.7 432.1,525.2 429.2,524.4 C426.3,523.6 423.6,521.5 421.2,518.8 C418.8,516.1 416.4,511.5 414.8,508.4 C413.2,505.3 412.1,502.5 411.6,500.4 C411.1,498.3 411.1,497.6 411.6,495.6Z" fill="#5f4137"/>
<path d="M443.0,529.0 C445.8,528.2 453.8,525.5 460.0,524.0 C466.2,522.5 473.3,521.0 480.0,520.0 C486.7,519.0 494.0,518.0 500.0,518.0 C506.0,518.0 511.0,518.7 516.0,520.0 C521.0,521.3 525.3,524.2 530.0,526.0 C534.7,527.8 539.0,529.7 544.0,531.0 C549.0,532.3 554.0,533.0 560.0,534.0 C566.0,535.0 574.0,535.7 580.0,537.0 C586.0,538.3 591.7,540.0 596.0,542.0 C600.3,544.0 604.3,547.8 606.0,549.0 C603.3,548.8 597.7,548.8 590.0,548.0 C582.3,547.2 570.0,545.3 560.0,544.0 C550.0,542.7 540.0,541.2 530.0,540.0 C520.0,538.8 510.0,538.2 500.0,537.0 C490.0,535.8 479.5,534.3 470.0,533.0 C460.5,531.7 447.5,529.7 443.0,529.0Z" fill="#5f4137"/>
<path d="M483.0,500.0 C483.3,497.3 483.2,493.7 486.0,490.0 C488.8,486.3 495.7,481.2 500.0,478.0 C504.3,474.8 507.7,473.2 512.0,471.0 C516.3,468.8 521.3,466.6 526.0,464.5 C530.7,462.4 535.7,460.2 540.0,458.5 C544.3,456.8 547.8,455.2 552.0,454.0 C556.2,452.8 560.7,451.8 565.0,451.0 C569.3,450.2 573.5,449.7 578.0,449.3 C582.5,448.9 587.7,448.8 592.0,448.5 C596.3,448.2 599.8,448.2 604.0,447.5 C608.2,446.8 612.7,446.0 617.0,444.5 C621.3,443.0 625.7,440.6 630.0,438.5 C634.3,436.4 638.7,434.1 643.0,432.0 C647.3,429.9 651.8,427.6 656.0,425.8 C660.2,424.0 663.7,422.5 668.0,421.0 C672.3,419.5 677.5,417.9 682.0,416.6 C686.5,415.3 690.7,413.9 695.0,413.0 C699.3,412.1 703.8,411.4 708.0,411.2 C712.2,411.0 715.3,410.5 720.0,412.0 C724.7,413.5 730.7,417.3 736.0,420.0 C741.3,422.7 748.0,426.0 752.0,428.0 C756.0,430.0 759.0,430.0 760.0,432.0 C761.0,434.0 756.7,437.3 758.0,440.0 C759.3,442.7 765.0,445.8 768.0,448.0 C771.0,450.2 775.0,451.5 776.0,453.0 C777.0,454.5 776.0,456.3 774.0,457.0 C772.0,457.7 767.7,456.5 764.0,457.0 C760.3,457.5 755.3,458.5 752.0,460.0 C748.7,461.5 747.0,463.3 744.0,466.0 C741.0,468.7 738.0,472.3 734.0,476.0 C730.0,479.7 725.7,484.3 720.0,488.0 C714.3,491.7 706.7,496.0 700.0,498.0 C693.3,500.0 686.7,500.2 680.0,500.0 C673.3,499.8 665.3,498.0 660.0,497.0 C654.7,496.0 651.3,494.3 648.0,494.0 C644.7,493.7 642.2,494.0 640.0,495.0 C637.8,496.0 635.3,498.2 635.0,500.0 C634.7,501.8 636.5,504.0 638.0,506.0 C639.5,508.0 643.7,509.7 644.0,512.0 C644.3,514.3 642.0,516.7 640.0,520.0 C638.0,523.3 634.0,529.7 632.0,532.0 C630.0,534.3 630.0,534.3 628.0,534.0 C626.0,533.7 623.0,531.7 620.0,530.0 C617.0,528.3 614.0,526.0 610.0,524.0 C606.0,522.0 601.0,519.2 596.0,518.0 C591.0,516.8 586.0,517.3 580.0,517.0 C574.0,516.7 566.0,516.8 560.0,516.0 C554.0,515.2 549.0,513.7 544.0,512.0 C539.0,510.3 534.0,507.8 530.0,506.0 C526.0,504.2 523.3,502.1 520.0,501.0 C516.7,499.9 513.3,499.3 510.0,499.6 C506.7,499.9 503.3,501.4 500.0,503.0 C496.7,504.6 492.7,508.5 490.0,509.0 C487.3,509.5 485.2,507.5 484.0,506.0 C482.8,504.5 482.7,502.7 483.0,500.0Z" fill="#5f4137"/>
<path d="M630.0,552.0 C631.0,551.3 632.7,550.3 636.0,548.0 C639.3,545.7 645.3,541.3 650.0,538.0 C654.7,534.7 659.0,531.3 664.0,528.0 C669.0,524.7 674.0,520.7 680.0,518.0 C686.0,515.3 693.3,514.2 700.0,512.0 C706.7,509.8 713.3,508.0 720.0,505.0 C726.7,502.0 733.3,497.8 740.0,494.0 C746.7,490.2 753.3,485.5 760.0,482.0 C766.7,478.5 773.3,475.1 780.0,473.0 C786.7,470.9 793.3,469.7 800.0,469.5 C806.7,469.3 813.3,470.9 820.0,472.0 C826.7,473.1 833.3,474.7 840.0,476.0 C846.7,477.3 853.3,478.3 860.0,480.0 C866.7,481.7 873.3,483.3 880.0,486.0 C886.7,488.7 894.0,492.0 900.0,496.0 C906.0,500.0 911.7,505.0 916.0,510.0 C920.3,515.0 923.7,519.3 926.0,526.0 C928.3,532.7 929.7,541.7 930.0,550.0 C930.3,558.3 929.0,569.0 928.0,576.0 C927.0,583.0 924.7,589.3 924.0,592.0 C920.0,591.7 907.3,590.8 900.0,590.0 C892.7,589.2 886.7,588.0 880.0,587.0 C873.3,586.0 866.7,584.8 860.0,584.0 C853.3,583.2 846.7,582.7 840.0,582.0 C833.3,581.3 826.7,581.0 820.0,580.0 C813.3,579.0 806.7,577.3 800.0,576.0 C793.3,574.7 790.0,573.5 780.0,572.0 C770.0,570.5 753.3,568.7 740.0,567.0 C726.7,565.3 713.3,563.7 700.0,562.0 C686.7,560.3 671.7,558.7 660.0,557.0 C648.3,555.3 635.0,552.8 630.0,552.0Z" fill="#5f4137"/>
<path d="M494.0,511.0 C496.7,510.2 504.7,506.2 510.0,506.0 C515.3,505.8 519.3,507.7 526.0,510.0 C532.7,512.3 542.7,517.7 550.0,520.0 C557.3,522.3 563.3,523.0 570.0,524.0 C576.7,525.0 584.0,524.7 590.0,526.0 C596.0,527.3 601.0,529.8 606.0,532.0 C611.0,534.2 616.5,537.2 620.0,539.0 C623.5,540.8 625.8,542.3 627.0,543.0" fill="none" stroke="#cfa046" stroke-width="7" filter="url(#b1)" stroke-linecap="round"/>
<path d="M494.0,507.0 C496.7,506.2 504.7,502.2 510.0,502.0 C515.3,501.8 519.3,503.7 526.0,506.0 C532.7,508.3 542.7,513.7 550.0,516.0 C557.3,518.3 563.3,519.1 570.0,520.0 C576.7,520.9 584.0,520.3 590.0,521.5 C596.0,522.7 601.0,524.9 606.0,527.0 C611.0,529.1 617.7,532.8 620.0,534.0" fill="none" stroke="#f3d980" stroke-width="2" filter="url(#b1)" stroke-linecap="round"/>
<path d="M640.0,503.0 C641.0,504.3 645.5,508.0 646.0,511.0 C646.5,514.0 644.7,517.2 643.0,521.0 C641.3,524.8 637.8,530.0 636.0,534.0 C634.2,538.0 632.7,543.2 632.0,545.0" fill="none" stroke="#cfa046" stroke-width="5" filter="url(#b1)" stroke-linecap="round"/>
<path d="M652.0,528.0 C655.0,526.2 662.0,520.5 670.0,517.0 C678.0,513.5 690.7,510.5 700.0,507.0 C709.3,503.5 718.0,500.2 726.0,496.0 C734.0,491.8 744.3,484.3 748.0,482.0" fill="none" stroke="#d3a64c" stroke-width="6" filter="url(#b2)" stroke-linecap="round"/>
<path d="M648.0,498.0 C651.0,498.5 659.0,500.2 666.0,501.0 C673.0,501.8 682.3,503.7 690.0,503.0 C697.7,502.3 704.7,500.2 712.0,497.0 C719.3,493.8 730.3,486.2 734.0,484.0" fill="none" stroke="#f3d980" stroke-width="3" filter="url(#b1)" stroke-linecap="round"/>
<path d="M452.0,522.0 C455.0,521.0 464.7,517.7 470.0,516.0 C475.3,514.3 481.7,512.7 484.0,512.0" fill="none" stroke="#d3a74d" stroke-width="3" filter="url(#b2)"/>
<linearGradient id="gS9" gradientUnits="userSpaceOnUse" x1="700" y1="560" x2="745" y2="538"><stop offset="0" stop-color="#d3e496"/><stop offset="1" stop-color="#a9c95c"/></linearGradient>
<linearGradient id="gS9d" gradientUnits="userSpaceOnUse" x1="730" y1="560" x2="757" y2="552"><stop offset="0" stop-color="#5f7e16"/><stop offset="1" stop-color="#8fae44"/></linearGradient>
<path d="M688.0,563.0 C683.4,561.0 690.5,561.9 692.4,560.2 C694.3,558.5 696.0,555.7 699.6,553.0 C703.2,550.3 709.2,546.7 714.0,544.0 C718.8,541.3 724.2,538.3 728.4,536.8 C732.6,535.3 736.2,534.7 739.2,535.0 C742.2,535.3 744.3,536.5 746.4,538.6 C748.5,540.7 750.1,544.3 751.8,547.6 C753.4,550.9 755.3,554.3 756.3,558.4 C757.2,562.5 763.5,569.7 757.5,572.0 C751.5,574.3 731.6,573.5 720.0,572.0 C708.4,570.5 692.6,565.0 688.0,563.0Z" fill="url(#gS9)"/>
<path d="M745.5,539 C742,545 738,552 734,556 C731,560 727,563 724,566 L758,572 C757,560 753,546 745.5,539Z" fill="url(#gS9d)"/>
<path d="M763,570 C768,567.5 778,567 789.6,569 C794,570.5 797,572.5 800,575.5 Z" fill="#cfe4a8"/>
<path d="M862,585 C872,581 888,580.5 897,583 C904,585 909,588 913,592.5 L890,589 Z" fill="#cde8a6"/>
<path d="M895,582.6 C903,584 909,588 913.5,593 L901,591 C900,588 898,585 895,582.6 Z" fill="#78962a"/>
<path d="M422.0,502.0 C422.0,499.3 422.7,497.7 424.4,496.4 C426.1,495.1 429.5,494.3 432.4,494.0 C435.3,493.7 439.1,494.0 442.0,494.8 C444.9,495.6 448.3,497.2 450.0,498.8 C451.7,500.4 452.7,502.5 452.4,504.4 C452.1,506.3 450.4,508.3 448.4,510.0 C446.4,511.7 443.3,513.8 440.4,514.8 C437.5,515.8 433.5,516.4 430.8,516.0 C428.1,515.6 425.9,514.7 424.4,512.4 C422.9,510.1 422.0,504.7 422.0,502.0Z" fill="#a7cb4e"/>
<path d="M422.5,506 C428,504 432,506 437,503 C442,500 448,503 452,506 C449,511 444,514 438,515.5 C432,516.5 427,515 424,512 Z" fill="#86ae30"/>
<path d="M527.0,486.0 C527.7,482.3 530.5,478.0 534.0,474.0 C537.5,470.0 543.0,465.4 548.0,462.0 C553.0,458.6 559.7,455.1 564.0,453.6 C568.3,452.1 570.7,452.4 574.0,453.0 C577.3,453.6 580.3,454.5 584.0,457.0 C587.7,459.5 592.0,464.2 596.0,468.0 C600.0,471.8 604.3,476.0 608.0,480.0 C611.7,484.0 616.0,488.7 618.0,492.0 C620.0,495.3 620.7,497.3 620.0,500.0 C619.3,502.7 617.3,506.0 614.0,508.0 C610.7,510.0 605.7,511.7 600.0,512.0 C594.3,512.3 586.7,510.3 580.0,510.0 C573.3,509.7 566.7,511.0 560.0,510.0 C553.3,509.0 545.0,506.3 540.0,504.0 C535.0,501.7 532.2,499.0 530.0,496.0 C527.8,493.0 526.3,489.7 527.0,486.0Z" fill="url(#gS2b)"/>
<clipPath id="cS2"><path d="M527.0,486.0 C527.7,482.3 530.5,478.0 534.0,474.0 C537.5,470.0 543.0,465.4 548.0,462.0 C553.0,458.6 559.7,455.1 564.0,453.6 C568.3,452.1 570.7,452.4 574.0,453.0 C577.3,453.6 580.3,454.5 584.0,457.0 C587.7,459.5 592.0,464.2 596.0,468.0 C600.0,471.8 604.3,476.0 608.0,480.0 C611.7,484.0 616.0,488.7 618.0,492.0 C620.0,495.3 620.7,497.3 620.0,500.0 C619.3,502.7 617.3,506.0 614.0,508.0 C610.7,510.0 605.7,511.7 600.0,512.0 C594.3,512.3 586.7,510.3 580.0,510.0 C573.3,509.7 566.7,511.0 560.0,510.0 C553.3,509.0 545.0,506.3 540.0,504.0 C535.0,501.7 532.2,499.0 530.0,496.0 C527.8,493.0 526.3,489.7 527.0,486.0Z"/></clipPath>
<g clip-path="url(#cS2)">
<path d="M571,446 C571,456 571,465 570,473 C563,475 557,479 552,483 C546,488 538,492 527,497 L515,500 L520,450 Z" fill="#e5e99b"/>
<path d="M571,446 C571,456 571,465 570,473 C574,473.5 579,475 584,478 C590,482 596,488 602,494 C607,500 610,505 613,510 L630,515 L630,455 L585,440 Z" fill="url(#gS2r)"/>
</g>
<path d="M651.0,478.0 C651.3,475.5 652.2,471.7 654.0,468.0 C655.8,464.3 659.0,460.7 662.0,456.0 C665.0,451.3 668.7,444.8 672.0,440.0 C675.3,435.2 678.7,430.5 682.0,427.0 C685.3,423.5 689.0,420.7 692.0,419.0 C695.0,417.3 697.3,416.8 700.0,417.0 C702.7,417.2 705.7,418.2 708.0,420.0 C710.3,421.8 712.0,425.0 714.0,428.0 C716.0,431.0 717.7,435.0 720.0,438.0 C722.3,441.0 725.8,443.3 728.0,446.0 C730.2,448.7 732.2,451.3 733.0,454.0 C733.8,456.7 734.2,459.0 733.0,462.0 C731.8,465.0 729.2,469.0 726.0,472.0 C722.8,475.0 719.0,477.7 714.0,480.0 C709.0,482.3 702.3,484.4 696.0,486.0 C689.7,487.6 682.0,489.3 676.0,489.6 C670.0,489.9 664.0,489.1 660.0,488.0 C656.0,486.9 653.5,484.7 652.0,483.0 C650.5,481.3 650.7,480.5 651.0,478.0Z" fill="url(#gS3b)"/>
<clipPath id="cS3"><path d="M651.0,478.0 C651.3,475.5 652.2,471.7 654.0,468.0 C655.8,464.3 659.0,460.7 662.0,456.0 C665.0,451.3 668.7,444.8 672.0,440.0 C675.3,435.2 678.7,430.5 682.0,427.0 C685.3,423.5 689.0,420.7 692.0,419.0 C695.0,417.3 697.3,416.8 700.0,417.0 C702.7,417.2 705.7,418.2 708.0,420.0 C710.3,421.8 712.0,425.0 714.0,428.0 C716.0,431.0 717.7,435.0 720.0,438.0 C722.3,441.0 725.8,443.3 728.0,446.0 C730.2,448.7 732.2,451.3 733.0,454.0 C733.8,456.7 734.2,459.0 733.0,462.0 C731.8,465.0 729.2,469.0 726.0,472.0 C722.8,475.0 719.0,477.7 714.0,480.0 C709.0,482.3 702.3,484.4 696.0,486.0 C689.7,487.6 682.0,489.3 676.0,489.6 C670.0,489.9 664.0,489.1 660.0,488.0 C656.0,486.9 653.5,484.7 652.0,483.0 C650.5,481.3 650.7,480.5 651.0,478.0Z"/></clipPath>
<g clip-path="url(#cS3)">
<path d="M696,412 C694,422 691,430 688,437 C685,445 683,453 681.6,460.8 C678,464 675,467 672,469.6 C668,472 664,474.5 660.8,476 C657,478 654,480 650,483 L640,486 L648,440 L690,405 Z" fill="#e5e99b"/>
<path d="M696,412 C694,422 691,430 688,437 C685,445 683,453 681.6,460.8 C686,460.6 690,461 694.4,461.6 C698,462.4 701,463.5 704,464.8 C709,468 713,472 718,477 L740,480 L740,430 L705,405 Z" fill="url(#gS3r)"/>
</g>
<linearGradient id="gS4l" gradientUnits="userSpaceOnUse" x1="758" y1="530" x2="795" y2="515"><stop offset="0" stop-color="#bcdca0"/><stop offset="0.6" stop-color="#dde79a"/><stop offset="1" stop-color="#cfe39a"/></linearGradient>
<linearGradient id="gS4" gradientUnits="userSpaceOnUse" x1="800" y1="492" x2="806" y2="556"><stop offset="0" stop-color="#6d8a20"/><stop offset="0.45" stop-color="#8fae46"/><stop offset="1" stop-color="#bedc98"/></linearGradient>
<path d="M753.6,510.0 C753.7,505.6 755.1,502.4 757.6,499.6 C760.1,496.8 764.3,495.1 768.8,493.2 C773.3,491.3 779.5,489.7 784.8,488.4 C790.1,487.1 796.8,485.5 800.8,485.5 C804.8,485.5 806.8,486.6 808.8,488.4 C810.8,490.2 812.3,493.5 812.8,496.4 C813.3,499.3 812.3,502.6 812.0,506.0 C811.7,509.4 811.0,512.2 811.2,517.0 C811.4,521.8 812.4,529.9 813.0,535.0 C813.6,540.1 815.1,544.0 814.8,547.6 C814.5,551.2 813.0,554.5 811.2,556.6 C809.4,558.7 807.6,560.1 804.0,560.2 C800.4,560.4 794.4,559.3 789.6,557.5 C784.8,555.7 779.4,552.5 775.2,549.4 C771.0,546.2 767.4,542.5 764.4,538.6 C761.4,534.7 759.0,530.8 757.2,526.0 C755.4,521.2 753.5,514.4 753.6,510.0Z" fill="url(#gS4l)"/>
<clipPath id="cS4"><path d="M753.6,510.0 C753.7,505.6 755.1,502.4 757.6,499.6 C760.1,496.8 764.3,495.1 768.8,493.2 C773.3,491.3 779.5,489.7 784.8,488.4 C790.1,487.1 796.8,485.5 800.8,485.5 C804.8,485.5 806.8,486.6 808.8,488.4 C810.8,490.2 812.3,493.5 812.8,496.4 C813.3,499.3 812.3,502.6 812.0,506.0 C811.7,509.4 811.0,512.2 811.2,517.0 C811.4,521.8 812.4,529.9 813.0,535.0 C813.6,540.1 815.1,544.0 814.8,547.6 C814.5,551.2 813.0,554.5 811.2,556.6 C809.4,558.7 807.6,560.1 804.0,560.2 C800.4,560.4 794.4,559.3 789.6,557.5 C784.8,555.7 779.4,552.5 775.2,549.4 C771.0,546.2 767.4,542.5 764.4,538.6 C761.4,534.7 759.0,530.8 757.2,526.0 C755.4,521.2 753.5,514.4 753.6,510.0Z"/></clipPath>
<g clip-path="url(#cS4)">
<path d="M750,512 L756,498 L790,484 L810,486 C800,492 792,500 786,508 C778,512 766,513 754,511 Z" fill="#e3e896"/>
<path d="M808,486 C798,492 790,500 786,508 C783,513 783,519 785,524 C788,533 795,541 802,547 C806,551 809,553 812,556 L822,560 L822,480 Z" fill="url(#gS4)"/>
</g>
<path d="M823.0,534.0 C823.0,530.3 825.2,525.2 828.0,522.0 C830.8,518.8 834.7,517.3 840.0,515.0 C845.3,512.7 853.3,509.8 860.0,508.0 C866.7,506.2 874.7,504.3 880.0,504.0 C885.3,503.7 888.0,504.3 892.0,506.0 C896.0,507.7 900.7,510.3 904.0,514.0 C907.3,517.7 910.0,523.0 912.0,528.0 C914.0,533.0 915.7,539.0 916.0,544.0 C916.3,549.0 915.3,554.0 914.0,558.0 C912.7,562.0 910.3,566.2 908.0,568.0 C905.7,569.8 903.3,569.3 900.0,569.0 C896.7,568.7 892.0,566.7 888.0,566.0 C884.0,565.3 880.7,565.0 876.0,565.0 C871.3,565.0 865.0,566.5 860.0,566.0 C855.0,565.5 850.0,564.0 846.0,562.0 C842.0,560.0 839.0,557.0 836.0,554.0 C833.0,551.0 830.2,547.3 828.0,544.0 C825.8,540.7 823.0,537.7 823.0,534.0Z" fill="#e5e99b"/>
<clipPath id="cS5"><path d="M823.0,534.0 C823.0,530.3 825.2,525.2 828.0,522.0 C830.8,518.8 834.7,517.3 840.0,515.0 C845.3,512.7 853.3,509.8 860.0,508.0 C866.7,506.2 874.7,504.3 880.0,504.0 C885.3,503.7 888.0,504.3 892.0,506.0 C896.0,507.7 900.7,510.3 904.0,514.0 C907.3,517.7 910.0,523.0 912.0,528.0 C914.0,533.0 915.7,539.0 916.0,544.0 C916.3,549.0 915.3,554.0 914.0,558.0 C912.7,562.0 910.3,566.2 908.0,568.0 C905.7,569.8 903.3,569.3 900.0,569.0 C896.7,568.7 892.0,566.7 888.0,566.0 C884.0,565.3 880.7,565.0 876.0,565.0 C871.3,565.0 865.0,566.5 860.0,566.0 C855.0,565.5 850.0,564.0 846.0,562.0 C842.0,560.0 839.0,557.0 836.0,554.0 C833.0,551.0 830.2,547.3 828.0,544.0 C825.8,540.7 823.0,537.7 823.0,534.0Z"/></clipPath>
<g clip-path="url(#cS5)">
<path d="M884,503 C874,516 862,530 852,546 C848,554 846,558 844,564 L870,570 L920,572 L922,520 L900,500 Z" fill="url(#gS5)"/>
</g>
<path d="M404.0,526.0 L440.0,531.0 L470.0,534.5 L500.0,538.0 L530.0,541.5 L560.0,545.0 L590.0,548.5 L606.0,550.0 L630.0,553.0 L660.0,557.0 L700.0,562.0 L740.0,567.0 L780.0,572.0 L800.0,576.0 L820.0,580.0 L840.0,582.0 L860.0,584.0 L880.0,587.0 L900.0,590.0 L924.0,593.0 L946.0,596.0 L956.0,603.0 L975.0,610.0 L975.0,730.0 L380.0,730.0 L380.0,520.0Z" fill="url(#gFront)"/>
<g clip-path="url(#cFront)">
<path d="M590.0,548.5 L606.0,550.0 L630.0,553.0 L660.0,557.0 L700.0,562.0 L740.0,567.0 L780.0,572.0 L800.0,576.0 L820.0,580.0 L840.0,582.0 L860.0,584.0 L880.0,587.0 L900.0,590.0 L924.0,593.0 L946.0,596.0 L956.0,603.0" fill="none" stroke="#e4bb5e" stroke-width="5" filter="url(#b1)"/>
<path d="M700,568 L800,582 L946,602 L940,622 L800,600 L700,586 Z" fill="#c8983e" opacity="0.55" filter="url(#b5)"/>
<path d="M404,525 L612,549 L760,568 L760,612 L700,606 L640,596 L580,577 L500,553 L413,526 Z" fill="url(#gWedge)"/>
<path d="M456,619 C500,612 560,612 620,610 L700,612 L700,622 C620,618 540,620 470,626 Z" fill="#dcb258" opacity="0.7" filter="url(#b2)"/>
<path d="M520,640 C550,634 590,634 620,640 L640,650 C600,642 560,642 524,650 Z" fill="#e0b85c" opacity="0.8" filter="url(#b2)"/>
<path d="M956.0,603.0 C954.7,604.8 950.7,609.8 948.0,614.0 C945.3,618.2 942.7,623.7 940.0,628.0 C937.3,632.3 935.3,637.0 932.0,640.0 C928.7,643.0 923.3,643.3 920.0,646.0 C916.7,648.7 914.3,653.0 912.0,656.0 C909.7,659.0 908.0,661.0 906.0,664.0 C904.0,667.0 902.7,671.0 900.0,674.0 C897.3,677.0 894.0,679.3 890.0,682.0 C886.0,684.7 881.0,687.7 876.0,690.0 C871.0,692.3 865.0,694.0 860.0,696.0 C855.0,698.0 850.0,700.2 846.0,702.0 C842.0,703.8 840.3,706.2 836.0,707.0 C831.7,707.8 825.0,707.3 820.0,707.0 C815.0,706.7 809.3,704.8 806.0,705.0 C802.7,705.2 802.7,707.5 800.0,708.0 C797.3,708.5 794.0,708.7 790.0,708.0 C786.0,707.3 781.0,705.7 776.0,704.0 C771.0,702.3 766.0,700.7 760.0,698.0 C754.0,695.3 746.7,691.0 740.0,688.0 C733.3,685.0 726.7,682.7 720.0,680.0 C713.3,677.3 706.0,674.3 700.0,672.0 C694.0,669.7 688.7,667.8 684.0,666.0 C679.3,664.2 675.3,661.5 672.0,661.0 C668.7,660.5 668.0,662.5 664.0,663.0 C660.0,663.5 653.3,664.3 648.0,664.0 C642.7,663.7 637.3,662.3 632.0,661.0 C626.7,659.7 621.3,658.2 616.0,656.0 C610.7,653.8 604.7,649.6 600.0,648.0 C595.3,646.4 592.7,646.8 588.0,646.5 C583.3,646.2 577.3,645.4 572.0,646.0 C566.7,646.6 561.3,648.7 556.0,650.0 C550.7,651.3 545.0,653.1 540.0,654.0 C535.0,654.9 531.0,655.5 526.0,655.6 C521.0,655.7 515.3,655.5 510.0,654.4 C504.7,653.3 499.0,651.4 494.0,649.0 C489.0,646.6 484.0,642.7 480.0,640.0 C476.0,637.3 473.3,634.7 470.0,633.0 C466.7,631.3 464.3,631.5 460.0,630.0 C455.7,628.5 449.0,627.3 444.0,624.0 C439.0,620.7 434.0,614.7 430.0,610.0 C426.0,605.3 423.0,601.0 420.0,596.0 C417.0,591.0 414.3,586.0 412.0,580.0 C409.7,574.0 407.5,566.3 406.0,560.0 C404.5,553.7 403.6,547.1 402.8,542.0 C402.0,536.9 401.5,531.3 401.2,529.2" fill="none" stroke="#efd074" stroke-width="4"/>
<path d="M956.0,603.0 C954.7,604.8 950.7,609.8 948.0,614.0 C945.3,618.2 942.7,623.7 940.0,628.0 C937.3,632.3 935.3,637.0 932.0,640.0 C928.7,643.0 923.3,643.3 920.0,646.0 C916.7,648.7 914.3,653.0 912.0,656.0 C909.7,659.0 907.0,662.7 906.0,664.0" fill="none" stroke="#ecc96c" stroke-width="7"/>
<path d="M460.0,630.0 C457.3,629.0 449.0,627.3 444.0,624.0 C439.0,620.7 434.0,614.7 430.0,610.0 C426.0,605.3 423.0,601.0 420.0,596.0 C417.0,591.0 414.3,586.0 412.0,580.0 C409.7,574.0 407.5,566.3 406.0,560.0 C404.5,553.7 403.6,547.1 402.8,542.0 C402.0,536.9 401.6,532.2 401.2,529.2 C400.8,526.2 400.6,524.9 400.5,524.0" fill="none" stroke="#efd074" stroke-width="5.5"/>
<path d="M508,656 C525,652 545,650 560,645 C572,641 586,641 600,645 C608,648 616,652 624,658 L600,660 L540,662 Z" fill="#f0d47c"/>
</g>
<linearGradient id="gS7l" gradientUnits="userSpaceOnUse" x1="572" y1="548" x2="597" y2="574"><stop offset="0" stop-color="#b3ce5c"/><stop offset="1" stop-color="#d6e692"/></linearGradient>
<linearGradient id="gS7d" gradientUnits="userSpaceOnUse" x1="563" y1="562" x2="590" y2="578"><stop offset="0" stop-color="#a9cc72"/><stop offset="1" stop-color="#5c861c"/></linearGradient>
<clipPath id="cS7"><path d="M561.2,561.6 C561.4,559.5 562.4,555.8 564.0,553.2 C565.6,550.6 568.7,547.7 571.0,546.2 C573.3,544.7 575.7,544.0 578.0,544.0 C580.3,544.0 582.7,544.4 585.0,546.2 C587.3,548.0 590.0,551.3 592.0,554.6 C594.0,557.9 595.9,562.3 596.9,565.8 C597.9,569.3 598.6,573.0 598.3,575.6 C597.9,578.2 596.5,580.0 594.8,581.2 C593.0,582.4 590.6,582.8 587.8,582.6 C585.0,582.4 581.3,581.4 578.0,579.8 C574.7,578.2 570.8,575.1 568.2,572.8 C565.6,570.5 563.8,567.7 562.6,565.8 C561.4,563.9 561.0,563.7 561.2,561.6Z"/></clipPath>
<path d="M561.2,561.6 C561.4,559.5 562.4,555.8 564.0,553.2 C565.6,550.6 568.7,547.7 571.0,546.2 C573.3,544.7 575.7,544.0 578.0,544.0 C580.3,544.0 582.7,544.4 585.0,546.2 C587.3,548.0 590.0,551.3 592.0,554.6 C594.0,557.9 595.9,562.3 596.9,565.8 C597.9,569.3 598.6,573.0 598.3,575.6 C597.9,578.2 596.5,580.0 594.8,581.2 C593.0,582.4 590.6,582.8 587.8,582.6 C585.0,582.4 581.3,581.4 578.0,579.8 C574.7,578.2 570.8,575.1 568.2,572.8 C565.6,570.5 563.8,567.7 562.6,565.8 C561.4,563.9 561.0,563.7 561.2,561.6Z" fill="url(#gS7l)"/>
<g clip-path="url(#cS7)"><path d="M560.0,551.0 C560.9,551.4 563.6,551.8 565.4,553.2 C567.2,554.6 568.9,558.0 571.0,559.5 C573.1,561.0 575.7,561.2 578.0,562.3 C580.3,563.3 583.1,564.0 585.0,565.8 C586.9,567.5 588.0,570.7 589.2,572.8 C590.4,574.9 591.1,577.0 592.0,578.4 C592.9,579.8 594.0,580.1 594.8,581.2 C595.6,582.3 596.6,584.4 597.0,585.0 L600,590 L555,590 L555,550 Z" fill="url(#gS7d)"/></g>
<linearGradient id="gS8l" gradientUnits="userSpaceOnUse" x1="645" y1="583" x2="640" y2="630"><stop offset="0" stop-color="#aecb56"/><stop offset="1" stop-color="#dcea96"/></linearGradient>
<linearGradient id="gS8" gradientUnits="userSpaceOnUse" x1="650" y1="600" x2="673" y2="608"><stop offset="0" stop-color="#5c7e16"/><stop offset="0.5" stop-color="#86a83e"/><stop offset="1" stop-color="#abcb6a"/></linearGradient>
<clipPath id="cS8"><path d="M631.9,603.6 C632.2,600.8 632.7,597.1 634.0,593.8 C635.3,590.5 637.3,586.2 639.6,584.0 C641.9,581.8 645.2,580.6 648.0,580.5 C650.8,580.4 653.6,581.3 656.4,583.3 C659.2,585.3 662.5,589.0 664.8,592.4 C667.1,595.8 669.1,599.9 670.4,603.6 C671.7,607.3 672.5,611.3 672.5,614.8 C672.5,618.3 672.1,621.8 670.4,624.6 C668.6,627.4 665.3,630.1 662.0,631.6 C658.7,633.1 654.3,633.9 650.8,633.7 C647.3,633.5 643.7,632.4 641.0,630.2 C638.3,628.0 636.2,623.7 634.7,620.4 C633.2,617.1 632.4,613.4 631.9,610.6 C631.4,607.8 631.5,606.4 631.9,603.6Z"/></clipPath>
<path d="M631.9,603.6 C632.2,600.8 632.7,597.1 634.0,593.8 C635.3,590.5 637.3,586.2 639.6,584.0 C641.9,581.8 645.2,580.6 648.0,580.5 C650.8,580.4 653.6,581.3 656.4,583.3 C659.2,585.3 662.5,589.0 664.8,592.4 C667.1,595.8 669.1,599.9 670.4,603.6 C671.7,607.3 672.5,611.3 672.5,614.8 C672.5,618.3 672.1,621.8 670.4,624.6 C668.6,627.4 665.3,630.1 662.0,631.6 C658.7,633.1 654.3,633.9 650.8,633.7 C647.3,633.5 643.7,632.4 641.0,630.2 C638.3,628.0 636.2,623.7 634.7,620.4 C633.2,617.1 632.4,613.4 631.9,610.6 C631.4,607.8 631.5,606.4 631.9,603.6Z" fill="url(#gS8l)"/>
<g clip-path="url(#cS8)"><path d="M647.0,576.0 C647.2,576.8 647.5,578.0 648.0,580.5 C648.5,583.0 650.1,587.6 650.1,591.0 C650.1,594.4 647.9,597.5 648.0,600.8 C648.1,604.1 649.2,607.6 650.8,610.6 C652.4,613.6 656.4,616.4 657.8,619.0 C659.2,621.6 659.2,623.8 659.2,626.0 C659.2,628.2 658.2,630.3 657.8,632.3 C657.4,634.3 657.1,637.0 657.0,638.0 L680,640 L680,575 Z" fill="url(#gS8)"/></g>
<g fill="#fff" opacity="0.2" font-family="'Liberation Serif', serif" font-size="45.5">
<text y="646"><tspan x="698.5" textLength="28" lengthAdjust="spacingAndGlyphs">R</tspan><tspan x="729" font-style="italic" textLength="40" lengthAdjust="spacingAndGlyphs">O</tspan><tspan x="775.5" textLength="128" lengthAdjust="spacingAndGlyphs">MEDIC</tspan></text>
</g>
<text x="745" y="664" font-size="12.5" font-weight="bold" font-family="'Liberation Sans', sans-serif" fill="#fff" opacity="0.26" textLength="109.5" lengthAdjust="spacing">www.romedic.ro</text>
</g>
<path d="M577.4,471 L643.4,361.4 L682.4,439" fill="none" stroke="#000" stroke-width="1.8" stroke-linejoin="miter"/>
<g font-family="'Liberation Sans', sans-serif" fill="#000">
<text y="124.0" font-size="52"><tspan x="342.52" textLength="145.81" lengthAdjust="spacingAndGlyphs">Litiază</tspan> <tspan x="504.98" textLength="139.75" lengthAdjust="spacingAndGlyphs">biliară</tspan></text>
<text y="209.5" font-size="26"><tspan x="581.70" textLength="93.55" lengthAdjust="spacingAndGlyphs">Vezicula</tspan> <tspan x="684.02" textLength="68.17" lengthAdjust="spacingAndGlyphs">biliară</tspan> <tspan x="763.19" textLength="104.73" lengthAdjust="spacingAndGlyphs">(exterior)</tspan></text>
<text y="357.7" font-size="26"><tspan x="659.24" textLength="74.75" lengthAdjust="spacingAndGlyphs">Calculi</tspan> <tspan x="745.16" textLength="63.36" lengthAdjust="spacingAndGlyphs">biliari</tspan></text>
<text y="625.2" font-size="26"><tspan x="126.10" textLength="93.25" lengthAdjust="spacingAndGlyphs">Vezicula</tspan> <tspan x="228.32" textLength="68.07" lengthAdjust="spacingAndGlyphs">biliară</tspan> <tspan x="306.77" textLength="99.34" lengthAdjust="spacingAndGlyphs">(interior)</tspan></text>
</g>
</svg>
</body></html>
